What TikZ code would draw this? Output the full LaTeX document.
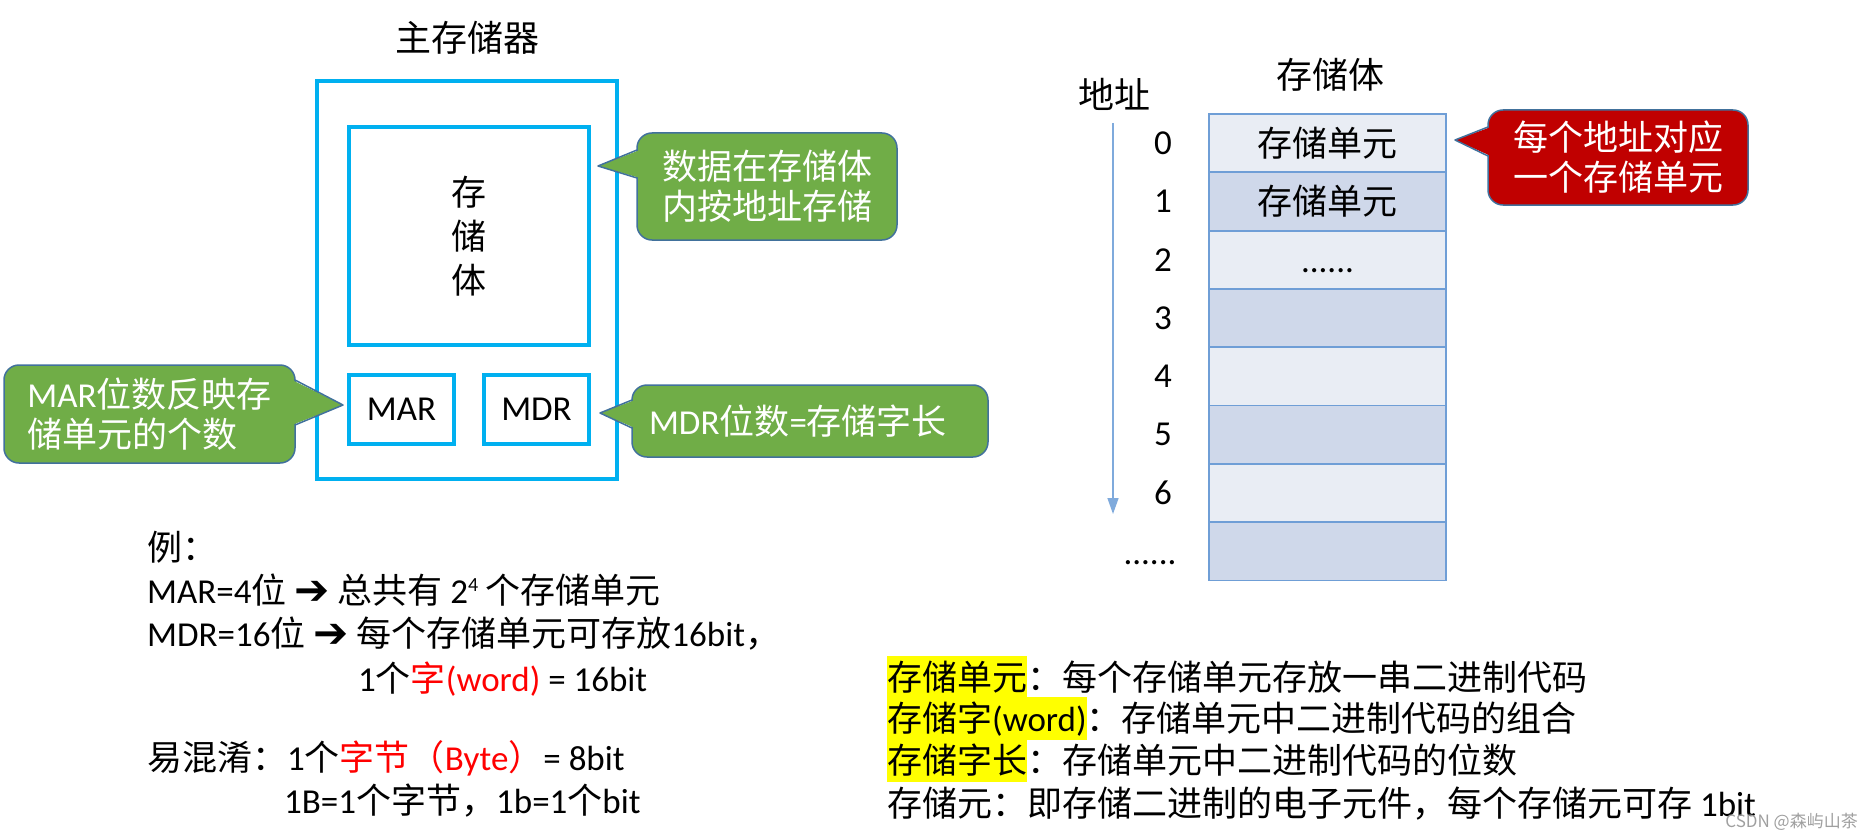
\documentclass[tikz,border=0pt]{standalone}
\usepackage{fontspec}
\setmainfont{Noto Sans CJK SC}
\newfontfamily\latf{Carlito}
\newfontfamily\djv{DejaVu Sans}
\newcommand\lat[1]{{\latf #1}}
\usetikzlibrary{arrows.meta}
\definecolor{cyanb}{HTML}{00B0F0}
\definecolor{gfill}{HTML}{70AD47}
\definecolor{rfill}{HTML}{C00000}
\definecolor{cbord}{HTML}{41719C}
\definecolor{rowA}{HTML}{E9EDF4}
\definecolor{rowB}{HTML}{CFD8EA}
\definecolor{tbord}{HTML}{6F9ED6}
\definecolor{arrc}{HTML}{7FAADC}
\definecolor{hlyel}{HTML}{FFFF00}
\definecolor{redt}{HTML}{FF0000}
\newcommand\hlt[1]{{\setlength{\fboxsep}{0pt}\colorbox{hlyel}{\rule[-9pt]{0pt}{43pt}#1}}}
\newcommand\rd[1]{\textcolor{redt}{#1}}
\newcommand\arr{\raisebox{-1pt}{\djv\fontsize{42}{42}\selectfont ➔}}
\newcommand\supr[1]{\raisebox{12pt}{\fontsize{20}{20}\selectfont\lat{#1}}}
\begin{document}
\begin{tikzpicture}[x=1pt,y=-1pt,
  bbox/.style={draw=cyanb,line width=3.5pt,inner sep=0pt},
  callbody/.style={draw=cbord,line width=1.5pt,rounded corners=15pt,inner sep=0pt,text=white,align=center,font=\fontsize{35}{40}\selectfont},
  ptr/.style={draw=cbord,line width=1.5pt,line join=round},
  cell/.style={draw=tbord,line width=1.8pt,minimum width=237pt,minimum height=58.3pt,inner sep=0pt,font=\fontsize{35}{40}\selectfont},
  txt/.style={font=\fontsize{35}{43}\selectfont,inner sep=0pt},
  tline/.style={txt,anchor=base west},
  num/.style={txt,font=\latf\fontsize{35}{40}\selectfont}]
\useasboundingbox (0,0) rectangle (1874,840);

% ---------- main memory ----------
\node[txt,font=\fontsize{36}{40}\selectfont] (title) at (467,38) {主存储器};
\node[bbox,minimum width=300pt,minimum height=398pt] (mem) at (467,280) {};
\node[bbox,minimum width=240pt,minimum height=218pt,align=center,font=\fontsize{35}{44}\selectfont] (body) at (469,236) {存\\储\\体};
\node[bbox,minimum width=105pt,minimum height=69pt,font=\latf\fontsize{35}{40}\selectfont] (mar) at (401.5,409.5) {MAR};
\node[bbox,minimum width=105pt,minimum height=69pt,font=\latf\fontsize{35}{40}\selectfont] (mdr) at (536.5,409.5) {MDR};

% callout 1
\node[callbody,fill=gfill,minimum width=260pt,minimum height=107pt] (c1) at (767,186.5) {数据在存储体\\内按地址存储};
\coordinate (c1tip) at (598,166);
\fill[gfill] (640,150) -- (c1tip) -- (640,178) -- cycle;
\draw[ptr] (637,150) -- (c1tip) -- (637,178);

% callout 2
\node[callbody,fill=gfill,minimum width=291pt,minimum height=98pt,align=left] (c2) at (149.5,414) {\lat{MAR}位数反映存\\储单元的个数};
\coordinate (c2tip) at (343,405);
\fill[gfill] (292,380) -- (c2tip) -- (292,425) -- cycle;
\draw[ptr] (295,380) -- (c2tip) -- (295,425);

% callout 3
\node[callbody,fill=gfill,minimum width=356pt,minimum height=72pt] (c3) at (810,421) {\hspace*{-24pt}\lat{MDR}位数\lat{=}存储字长};
\coordinate (c3tip) at (600,413);
\fill[gfill] (635,400) -- (c3tip) -- (635,428) -- cycle;
\draw[ptr] (632,400) -- (c3tip) -- (632,428);

% ---------- storage array ----------
\node[txt,font=\fontsize{36}{40}\selectfont] (addr) at (1114,94) {地址};
\node[txt,font=\fontsize{36}{40}\selectfont] (arrt) at (1330,75) {存储体};

\node[cell,fill=rowA] (r0) at (1327.5,143.15) {存储单元};
\node[cell,fill=rowB] (r1) at (1327.5,201.45) {存储单元};
\node[cell,fill=rowA] (r2) at (1327.5,259.75) {};
\node[cell,fill=rowB] (r3) at (1327.5,318.05) {};
\node[cell,fill=rowA] (r4) at (1327.5,376.35) {};
\node[cell,fill=rowB] (r5) at (1327.5,434.65) {};
\node[cell,fill=rowA] (r6) at (1327.5,492.95) {};
\node[cell,fill=rowB] (r7) at (1327.5,551.25) {};
\node[txt,anchor=base,font=\latf\fontsize{35}{40}\selectfont] (d2) at (1327.5,272) {......};

\node[num] (n0) at (1163,143.15) {0};
\node[num] (n1) at (1163,201.45) {1};
\node[num] (n2) at (1163,259.75) {2};
\node[num] (n3) at (1163,318.05) {3};
\node[num] (n4) at (1163,376.35) {4};
\node[num] (n5) at (1163,434.65) {5};
\node[num] (n6) at (1163,492.95) {6};
\node[txt,anchor=base,font=\latf\fontsize{35}{40}\selectfont] (n7) at (1150,564) {......};

\coordinate (atop) at (1113,123);
\coordinate (abot) at (1113,514);
\draw[arrc,line width=1.5pt,-{Triangle[length=16pt,width=11pt]}] (atop) -- (abot);

% callout red
\node[callbody,fill=rfill,minimum width=260pt,minimum height=95pt] (c4) at (1618,157.5) {每个地址对应\\一个存储单元};
\coordinate (c4tip) at (1455,140);
\fill[rfill] (1491,127) -- (c4tip) -- (1491,156) -- cycle;
\draw[ptr] (1488,127) -- (c4tip) -- (1488,156);

% ---------- bottom left text ----------
\node[tline] (l1) at (147,560) {例：};
\node[tline] (l2) at (147,603) {\lat{MAR=4}位 \arr{} 总共有 \lat{2}\supr{4} 个存储单元};
\node[tline] (l3) at (147,646) {\lat{MDR=16}位 \arr{} 每个存储单元可存放\lat{16bit}，};
\node[tline] (l4) at (358,691) {\lat{1}个\rd{字\lat{(word)}} \lat{= 16bit}};
\node[tline] (l5) at (147,770) {易混淆：\lat{1}个\rd{字节（\lat{Byte}）}\lat{= 8bit}};
\node[tline] (l6) at (284,813) {\lat{1B=1}个字节，\lat{1b=1}个\lat{bit}};

% ---------- bottom right text ----------
\node[tline] (t1) at (887,690) {\hlt{存储单元}：每个存储单元存放一串二进制代码};
\node[tline] (t2) at (887,731) {\hlt{存储字\lat{(word)}}：存储单元中二进制代码的组合};
\node[tline] (t3) at (887,773) {\hlt{存储字长}：存储单元中二进制代码的位数};
\node[tline] (t4) at (887,816) {存储元：即存储二进制的电子元件，每个存储元可存 \lat{1bit}};

\node[inner sep=0pt,anchor=east,text=gray!75,font=\fontsize{17}{17}\selectfont] (csdn) at (1858,822) {CSDN @森屿山茶};
\end{tikzpicture}
\end{document}
